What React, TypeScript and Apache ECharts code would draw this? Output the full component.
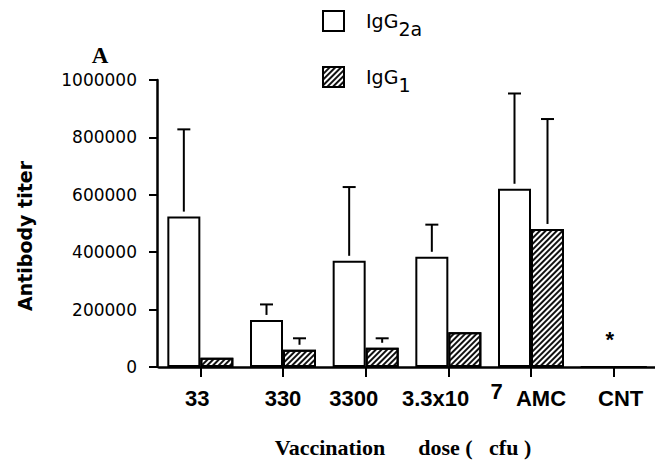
import React, { useEffect, useRef } from "react";
import * as echarts from "echarts";

// Vaccination dose groups (x axis)
const categories = ["33", "330", "3300", "3.3x10^7", "AMC", "CNT"];
// Mean antibody titers and upper error (SEM) per group
const igg2aTiter = [524000, 164000, 370000, 384000, 621000, 0];
const igg2aError = [304000, 54000, 257000, 112000, 332000, 0];
const igg1Titer = [32000, 60000, 67000, 121000, 481000, 0];
const igg1Error = [0, 40000, 33000, 0, 383000, 0];
// Groups where no titer was detected
const notDetected = [false, false, false, false, false, true];
// Y axis range
const yMin = 0;
const yMax = 1000000;
const yStep = 200000;

const SANS = "DejaVu Sans";
const ARIAL = "Liberation Sans";
const SERIF = "Liberation Serif";
const BAR_W = 33;
// Horizontal nudge (px) of each dose label relative to its tick
const LABEL_NUDGE = [-3, 0, -12, 4, 10, 7];

const hatch = {
  symbol: "rect",
  symbolSize: 1,
  color: "#111",
  dashArrayX: [1, 0],
  dashArrayY: [1.2, 1.3],
  rotation: -Math.PI / 4,
};

function errorSeries(name: string, titers: number[], errors: number[], offset: number) {
  return {
    type: "custom",
    name,
    z: 5,
    data: categories.map((_, i) => [i, titers[i], errors[i]]),
    encode: { x: 0, y: 1 },
    renderItem: (_params: any, api: any) => {
      const err = api.value(2);
      if (!err) return null;
      const v = api.value(1);
      const base = api.coord([api.value(0), v]);
      const top = api.coord([api.value(0), v + err]);
      const x = base[0] + offset;
      const style = { stroke: "#000", lineWidth: 2 };
      return {
        type: "group",
        children: [
          { type: "line", shape: { x1: x, y1: base[1] - 5, x2: x, y2: top[1] }, style },
          { type: "line", shape: { x1: x - 6.5, y1: top[1], x2: x + 6.5, y2: top[1] }, style },
        ],
      };
    },
  };
}

export default function App() {
  const ref = useRef<HTMLDivElement>(null);

  useEffect(() => {
    if (!ref.current) return;
    const chart = echarts.init(ref.current, undefined, { renderer: "svg" });
    const labelFont = {
      fontFamily: ARIAL,
      fontWeight: "bold",
      fontSize: 22,
      lineHeight: 24,
      color: "#000",
    };
    const labelRich: Record<string, any> = {
      s: { ...labelFont, padding: [0, 0, 14, 9] },
    };
    LABEL_NUDGE.forEach((d, i) => {
      labelRich["n" + i] = {
        ...labelFont,
        padding: d >= 0 ? [0, 0, 0, 2 * d] : [0, -2 * d, 0, 0],
      };
    });
    chart.setOption({
      animation: false,
      backgroundColor: "#fff",
      grid: { left: 159, right: -6, top: 80, bottom: 93, containLabel: false },
      legend: {
        data: ["IgG2a", "IgG1"],
        orient: "vertical",
        left: 322,
        top: 4,
        padding: 0,
        itemWidth: 21,
        itemHeight: 20,
        itemGap: 22,
        icon: "rect",
        selectedMode: false,
        itemStyle: { borderWidth: 2, borderColor: "#000" },
        formatter: (name: string) =>
          name === "IgG2a" ? "{m|IgG}{s|2a}" : "{m|IgG}{s|1}",
        textStyle: {
          lineHeight: 20,
          rich: {
            m: { fontFamily: SANS, fontSize: 19, color: "#000", lineHeight: 20, padding: [0, 0, 0, 17] },
            s: { fontFamily: SANS, fontSize: 19, color: "#000", lineHeight: 20, padding: [15, 0, 0, 0] },
          },
        },
      },
      xAxis: {
        type: "category",
        data: categories,
        boundaryGap: true,
        axisLine: { show: true, lineStyle: { color: "#000", width: 2.5 } },
        axisTick: { show: true, alignWithLabel: true, length: 10, lineStyle: { color: "#000", width: 2 } },
        axisLabel: {
          interval: 0,
          margin: 19,
          ...labelFont,
          formatter: (v: string, i: number) => {
            const m = v.match(/^(.*)\^(.*)$/);
            return m ? `{n${i}|${m[1]}\u00A0\u00A0}{s|${m[2]}}` : `{n${i}|${v}}`;
          },
          rich: labelRich,
        },
        splitLine: { show: false },
      },
      yAxis: {
        type: "value",
        min: yMin,
        max: yMax,
        interval: yStep,
        offset: 2,
        axisLine: { show: true, lineStyle: { color: "#000", width: 2.5 } },
        axisTick: { show: true, length: 8, lineStyle: { color: "#000", width: 2 } },
        axisLabel: {
          margin: 20,
          fontFamily: SANS,
          fontSize: 17,
          color: "#000",
          formatter: (v: number) => String(v),
        },
        splitLine: { show: false },
      },
      series: [
        {
          name: "IgG2a",
          type: "bar",
          data: igg2aTiter,
          barWidth: BAR_W,
          barGap: "0%",
          itemStyle: { color: "#fff", borderColor: "#000", borderWidth: 2 },
          label: {
            show: true,
            position: [30, -27],
            align: "center",
            verticalAlign: "middle",
            fontFamily: ARIAL,
            fontWeight: "bold",
            fontSize: 22,
            color: "#000",
            formatter: (p: any) => (notDetected[p.dataIndex] ? "*" : ""),
          },
        },
        {
          name: "IgG1",
          type: "bar",
          data: igg1Titer,
          barWidth: BAR_W,
          barGap: "0%",
          itemStyle: { color: "#fff", borderColor: "#000", borderWidth: 2, decal: hatch },
        },
        errorSeries("IgG2a error", igg2aTiter, igg2aError, -BAR_W / 2),
        errorSeries("IgG1 error", igg1Titer, igg1Error, BAR_W / 2),
      ],
      graphic: [
        {
          type: "text",
          x: 100,
          y: 55,
          style: {
            text: "A",
            fontFamily: SERIF,
            fontWeight: "bold",
            fontSize: 23,
            fill: "#000",
            textAlign: "center",
            textVerticalAlign: "middle",
          },
        },
        {
          type: "text",
          x: 25,
          y: 236,
          rotation: Math.PI / 2,
          style: {
            text: "Antibody titer",
            fontFamily: SANS,
            fontWeight: "bold",
            fontSize: 19,
            fill: "#000",
            textAlign: "center",
            textVerticalAlign: "middle",
          },
        },
        {
          type: "text",
          x: 403,
          y: 447,
          style: {
            text: "Vaccination\u00A0\u00A0\u00A0\u00A0\u00A0\u00A0dose\u00A0(\u00A0\u00A0\u00A0cfu\u00A0)",
            fontFamily: SERIF,
            fontWeight: "bold",
            fontSize: 22,
            fill: "#000",
            textAlign: "center",
            textVerticalAlign: "middle",
          },
        },
      ],
    });
    return () => chart.dispose();
  }, []);

  return (
    <div
      ref={ref}
      style={{ position: "absolute", left: 0, top: 0, width: 655, height: 460, overflow: "hidden" }}
    />
  );
}
